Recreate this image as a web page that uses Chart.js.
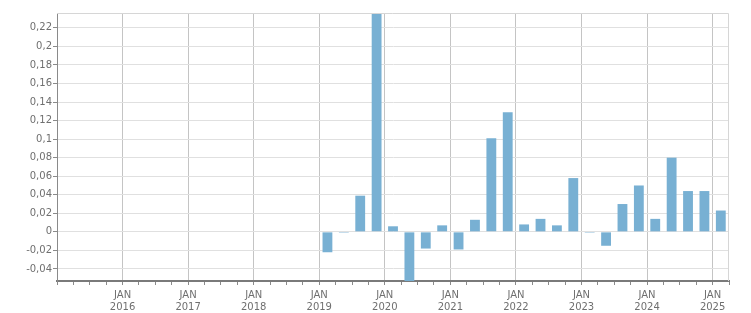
<!DOCTYPE html>
<html lang="de">
<head>
    <meta charset="UTF-8">
    <title>Quartalswerte</title>
    <script src="https://cdn.jsdelivr.net/npm/chart.js"></script>
    <style>
        body {
            margin: 0;
            background: #fff;
        }
        #wrap {
            width: 751px;
            height: 313px;
        }
    </style>
</head>
<body>
    <div id="wrap"><canvas id="chart"></canvas></div>

    <script>
        // Quartale (2015 bis 2018 ohne Werte)
        const quarters = [
            '2019 Q1', '2019 Q2', '2019 Q3', '2019 Q4',
            '2020 Q1', '2020 Q2', '2020 Q3', '2020 Q4',
            '2021 Q1', '2021 Q2', '2021 Q3', '2021 Q4',
            '2022 Q1', '2022 Q2', '2022 Q3', '2022 Q4',
            '2023 Q1', '2023 Q2', '2023 Q3', '2023 Q4',
            '2024 Q1', '2024 Q2', '2024 Q3', '2024 Q4',
            '2025 Q1'
        ];
        const values = [
            -0.022, -0.001, 0.039, 0.236,
            0.006, -0.06, -0.018, 0.007,
            -0.019, 0.013, 0.101, 0.129,
            0.008, 0.014, 0.007, 0.058,
            -0.001, -0.015, 0.030, 0.050,
            0.014, 0.080, 0.044, 0.044,
            0.023
        ];
        const yTicks = [-0.04, -0.02, 0, 0.02, 0.04, 0.06, 0.08, 0.1, 0.12, 0.14, 0.16, 0.18, 0.2, 0.22];
        const xTickYears = [2016, 2017, 2018, 2019, 2020, 2021, 2022, 2023, 2024, 2025];

        // Balken in der Mitte des Quartals
        const points = quarters.map((q, i) => {
            const year = parseInt(q.slice(0, 4));
            const qn = parseInt(q.slice(6));
            return { x: year + (qn - 1) / 4 + 0.125, y: values[i] };
        });

        const frame = {
            id: 'frame',
            afterDraw(chart) {
                const { ctx, chartArea: a } = chart;
                ctx.save();
                ctx.strokeStyle = '#d6d6d6';
                ctx.lineWidth = 1;
                ctx.beginPath();
                ctx.moveTo(a.left, a.top + 0.5);
                ctx.lineTo(a.right - 0.5, a.top + 0.5);
                ctx.lineTo(a.right - 0.5, a.bottom);
                ctx.stroke();
                ctx.restore();
            }
        };

        Chart.defaults.font.family = "'DejaVu Sans', sans-serif";
        Chart.defaults.font.size = 10;
        Chart.defaults.color = '#6f6f6f';

        new Chart(document.getElementById('chart'), {
            type: 'bar',
            data: {
                datasets: [{
                    data: points,
                    backgroundColor: '#78b0d3',
                    borderWidth: 0,
                    categoryPercentage: 1,
                    barPercentage: 0.6
                }]
            },
            options: {
                responsive: true,
                maintainAspectRatio: false,
                animation: false,
                layout: { padding: { left: 0, top: 13, right: 22, bottom: 0 } },
                plugins: {
                    legend: { display: false },
                    tooltip: { enabled: false }
                },
                scales: {
                    x: {
                        type: 'linear',
                        min: 2015,
                        max: 2025.25,
                        offset: false,
                        afterBuildTicks: (scale) => {
                            const t = [];
                            for (let v = 2015; v <= 2025.25; v += 0.25) t.push({ value: v });
                            scale.ticks = t;
                        },
                        afterFit: (scale) => { scale.height = 32; },
                        ticks: {
                            autoSkip: false,
                            maxRotation: 0,
                            padding: 4,
                            callback: (v) => xTickYears.includes(v) ? ['JAN', String(v)] : ''
                        },
                        grid: {
                            offset: false,
                            color: (c) => xTickYears.includes(c.tick && c.tick.value) ? '#c4c4c4' : 'rgba(0,0,0,0)',
                            tickColor: '#8a8a8a',
                            tickLength: 4
                        },
                        border: { color: '#7a7a7a', width: 2 }
                    },
                    y: {
                        min: -0.053,
                        max: 0.236,
                        afterBuildTicks: (scale) => {
                            scale.ticks = yTicks.map(v => ({ value: v }));
                        },
                        afterFit: (scale) => { scale.width = 57; },
                        ticks: {
                            padding: 1,
                            callback: (v) => String(Math.round(v * 100) / 100).replace('.', ',')
                        },
                        grid: {
                            color: '#e0e0e0',
                            tickColor: '#8a8a8a',
                            tickLength: 4
                        },
                        border: { color: '#8a8a8a', width: 1 }
                    }
                }
            },
            plugins: [frame]
        });
    </script>
</body>
</html>
